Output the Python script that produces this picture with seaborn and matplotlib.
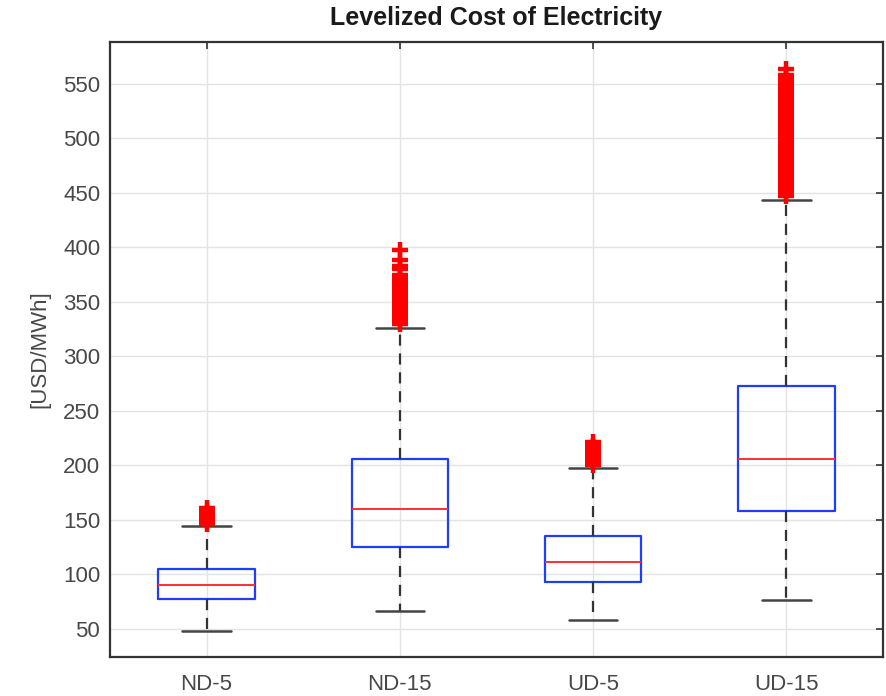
import seaborn as sns
import matplotlib.pyplot as plt
import pandas as pd

# box statistics, one entry per scenario
scenarios = ['ND-5', 'ND-15', 'UD-5', 'UD-15']
whisker_low = [47.8, 66, 58, 76]
q1 = [77.5, 124.5, 93, 157.5]
median = [90.3, 160, 111.5, 206]
q3 = [104.5, 205.5, 135, 273]
whisker_high = [144.5, 326, 197.5, 443]

# outliers (red + marks)
out_nd5 = [146, 149, 152, 155, 158, 161]
out_nd15 = [329, 332, 335, 338, 341, 344, 347, 350, 353, 356, 359, 362, 365,
            368, 371, 374, 380, 383, 388, 397]
out_ud5 = [200, 203, 206, 209, 212, 215, 218, 221]
out_ud15 = [447, 450, 453, 456, 459, 462, 465, 468, 471, 474, 477, 480, 483,
            486, 489, 492, 495, 498, 501, 504, 507, 510, 513, 516, 519, 522,
            525, 528, 531, 534, 537, 540, 543, 546, 549, 552, 555, 558, 563]
outliers = [out_nd5, out_nd15, out_ud5, out_ud15]

# sample table for sns.boxplot: quartile values repeated so the
# percentiles land exactly on them
rep = 60
rows = []
for i, s in enumerate(scenarios):
    vals = ([whisker_low[i]] + [q1[i]] * rep + [median[i]] * rep
            + [q3[i]] * rep + [whisker_high[i]] + outliers[i])
    rows += [(s, v) for v in vals]
df = pd.DataFrame(rows, columns=['scenario', 'value'])

sns.set_style('whitegrid', {'axes.edgecolor': '#262626',
                            'grid.color': '#e3e3e3'})
plt.rcParams['font.family'] = ['Liberation Sans', 'DejaVu Sans']

fig = plt.figure(figsize=(8.87, 6.96), dpi=100)
ax = fig.add_axes([0.124, 0.056, 0.8715, 0.8835])

sns.boxplot(data=df, x='scenario', y='value', order=scenarios, ax=ax,
            width=0.5, whis=1.5, fill=False, linewidth=1.5,
            boxprops=dict(color='#1f3dff', linewidth=1.6),
            medianprops=dict(color='#ff3030', linewidth=1.4),
            whiskerprops=dict(color='#333333', linestyle=(0, (5, 3.5)), linewidth=1.6),
            capprops=dict(color='#444444', linewidth=1.8),
            flierprops=dict(marker='+', markeredgecolor='red', markersize=11.5,
                            markeredgewidth=3.2))

ax.set_ylim(24, 588)
ax.set_xlim(-0.5, 3.5)
ax.set_yticks(range(50, 551, 50))
ax.grid(True, color='#e3e3e3', linewidth=1)
ax.set_axisbelow(True)
for sp in ax.spines.values():
    sp.set_visible(True)
    sp.set_linewidth(1.6)
    sp.set_color('#333333')

ax.tick_params(direction='in', top=True, right=True, length=5, width=1.2,
               color='#333333', labelsize=16, labelcolor='#484848')
ax.tick_params(axis='x', pad=12)
ax.tick_params(axis='y', pad=7)
ax.set_xlabel('')
ax.set_ylabel('[USD/MWh]', fontsize=16, color='#484848', labelpad=9)
ax.set_title('Levelized Cost of Electricity', fontsize=18, fontweight='bold',
             color='#1a1a1a', pad=12)

fig.savefig('out.png', dpi=100)
